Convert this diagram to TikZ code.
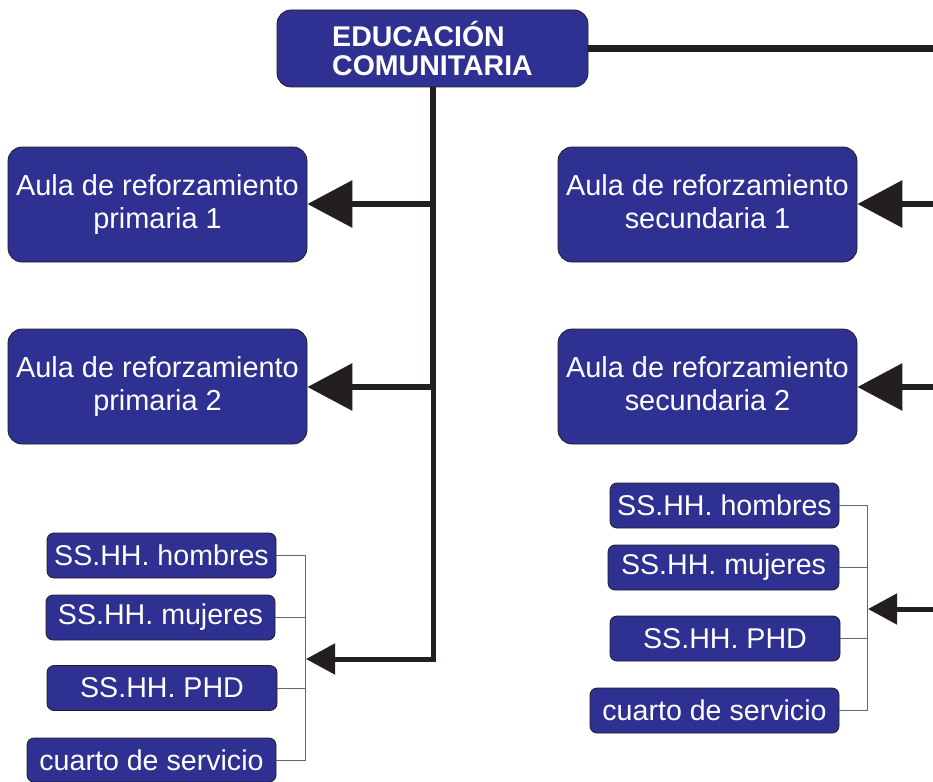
\documentclass[tikz,border=0pt]{standalone}
\usepackage{fontspec}
\setmainfont{Liberation Sans}
\usetikzlibrary{arrows.meta}
\definecolor{boxblue}{HTML}{2E3192}
\definecolor{linedark}{HTML}{231F20}
\tikzset{
  bigbox/.style={fill=boxblue, draw=linedark, line width=0.8pt, rounded corners=14pt,
    text=white, align=center, inner sep=0pt, minimum width=299pt, minimum height=115pt,
    font=\fontsize{28.9}{33}\selectfont},
  smallbox/.style={fill=boxblue, draw=linedark, line width=0.8pt, rounded corners=7pt,
    text=white, align=center, inner sep=0pt, minimum height=45pt,
    font=\fontsize{28.6}{30}\selectfont},
  topbox/.style={fill=boxblue, draw=linedark, line width=0.8pt, rounded corners=14pt,
    text=white, align=left, inner sep=0pt, minimum width=311pt, minimum height=77pt,
    font=\bfseries\fontsize{28.5}{29}\selectfont},
  trunk/.style={draw=linedark, line width=6.5pt},
  lowtrunk/.style={draw=linedark, line width=5pt},
  bigarrow/.style={trunk, -{Triangle[length=45pt,width=46pt]}},
  smallarrow/.style={draw=linedark, line width=5pt, -{Triangle[length=29pt,width=30pt]}},
  bracket/.style={draw=gray!80!black, line width=1pt}
}
\begin{document}
\begin{tikzpicture}[x=1pt,y=-1pt]
\useasboundingbox (0,0) rectangle (933,781);
% nodes
\node[topbox] (top) at (432.5,48.5) {EDUCACIÓN\\COMUNITARIA};
\node[bigbox] (p1) at (157.5,204.5) {Aula de reforzamiento\\primaria 1};
\node[bigbox] (p2) at (157.5,386.5) {Aula de reforzamiento\\primaria 2};
\node[bigbox] (s1) at (707.5,204.5) {Aula de reforzamiento\\secundaria 1\vphantom{p}};
\node[bigbox] (s2) at (707.5,386.5) {Aula de reforzamiento\\secundaria 2\vphantom{p}};
% left small boxes
\node[smallbox, minimum width=229pt] (hL) at (161.5,555.5) {SS.HH. hombres};
\node[smallbox, minimum width=229pt] (mL) at (160.5,617.5) {SS.HH. mujeres};
\node[smallbox, minimum width=230pt] (pL) at (162,688) {SS.HH. PHD};
\node[smallbox, minimum width=249pt, minimum height=44pt] (cL) at (151.5,760) {cuarto de servicio};
% right small boxes
\node[smallbox, minimum width=229pt] (hR) at (724.5,505.5) {SS.HH. hombres};
\node[smallbox, minimum width=231pt] (mR) at (723.5,567.5) {SS.HH. mujeres};
\node[smallbox, minimum width=230pt] (pR) at (725,638.5) {SS.HH. PHD};
\node[smallbox, minimum width=249pt] (cR) at (714.5,710.5) {cuarto de servicio};
% coordinates
\coordinate (bxL) at (305,0);
\coordinate (bxR) at (867,0);
\coordinate (rTop) at (936,48.5);
\coordinate (r1) at (936,204);
\coordinate (r2) at (936,387);
\coordinate (r3) at (936,609);
\coordinate (tipL) at (306,659);
\coordinate (tipR) at (868,609);
\coordinate (trunkTop) at (433,87);
\coordinate (trunkMid) at (433,390.25);
\coordinate (trunkBot) at (433,661.5);
\coordinate (j1) at (436.25,204);
\coordinate (j2) at (436.25,387);
% top horizontal line
\draw[trunk] (top.east) -- (rTop);
% left trunk
\draw[trunk] (trunkTop) -- (trunkMid);
\draw[lowtrunk] (trunkMid) -- (trunkBot);
\draw[smallarrow] (435.5,659) -- (tipL);
\draw[bigarrow] (j1) -- (p1.east |- j1);
\draw[bigarrow] (j2) -- (p2.east |- j2);
% right arrows
\draw[bigarrow] (r1) -- (s1.east |- r1);
\draw[bigarrow] (r2) -- (s2.east |- r2);
\draw[smallarrow] (r3) -- (tipR);
% left bracket
\draw[bracket] (hL.east) -- (hL.east -| bxL) -- (cL.east -| bxL) -- (cL.east);
\draw[bracket] (mL.east) -- (mL.east -| bxL);
\draw[bracket] (pL.east) -- (pL.east -| bxL);
% right bracket
\draw[bracket] (hR.east) -- (hR.east -| bxR) -- (cR.east -| bxR) -- (cR.east);
\draw[bracket] (mR.east) -- (mR.east -| bxR);
\draw[bracket] (pR.east) -- (pR.east -| bxR);
\end{tikzpicture}
\end{document}
